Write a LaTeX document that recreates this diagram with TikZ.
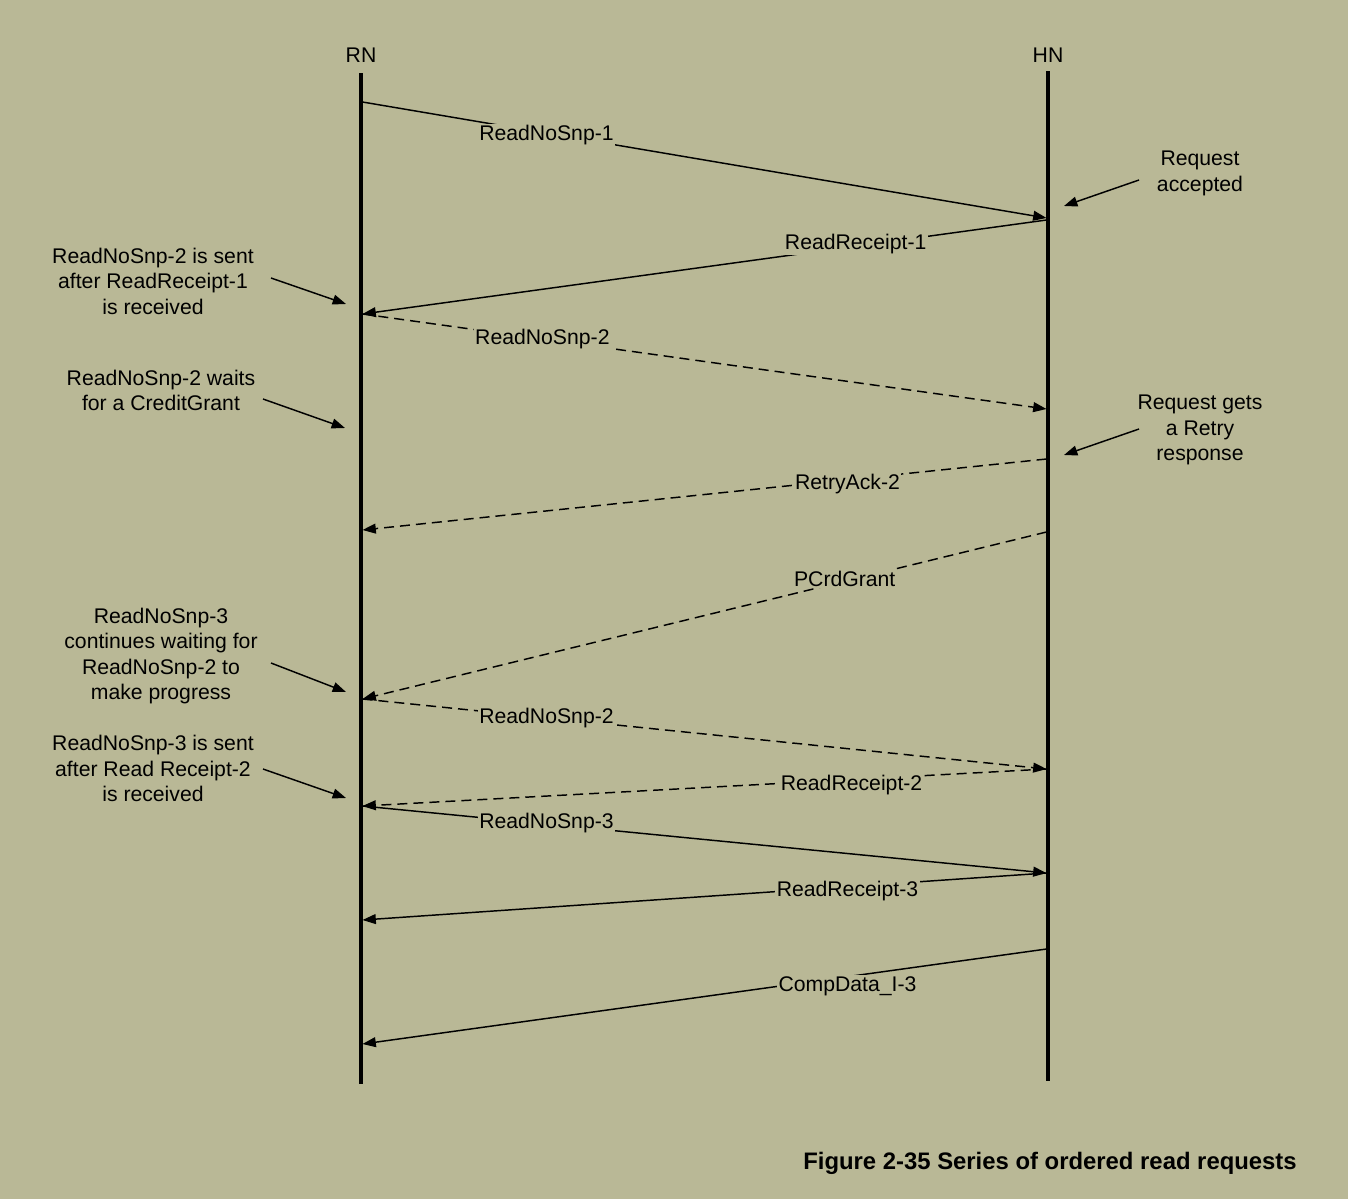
\documentclass[tikz,border=0pt]{standalone}
\usepackage{fontspec}
\setmainfont{Liberation Sans}
\usetikzlibrary{arrows.meta}
\definecolor{bg}{RGB}{185,184,150}
\begin{document}
\begin{tikzpicture}[x=0.75pt,y=-0.75pt,
  lifeline/.style={line width=2.3pt},
  msg/.style={line width=1.1pt,-{Triangle[length=10pt,width=7.4pt]}},
  dmsg/.style={msg,dash pattern=on 7.5pt off 4.5pt},
  lbl/.style={fill=bg,inner sep=1pt,font=\fontsize{15.9}{19}\selectfont},
  head/.style={inner sep=0pt,font=\fontsize{15.9}{19}\selectfont},
  note/.style={align=center,inner sep=0pt,font=\fontsize{15.9}{19.1}\selectfont},
  pointer/.style={line width=1.1pt,-{Triangle[length=10pt,width=7.4pt]}}]
\fill[bg] (0,0) rectangle (1348,1199);
\useasboundingbox (0,0) rectangle (1348,1199);

% lifelines
\node[head] (rn) at (361,55) {RN};
\node[head] (hn) at (1048,55) {HN};
\coordinate (rntop) at (361,73);
\coordinate (rnbot) at (361,1084);
\coordinate (hntop) at (1048,71);
\coordinate (hnbot) at (1048,1081);
\draw[lifeline] (rntop) -- (rnbot);
\draw[lifeline] (hntop) -- (hnbot);

% message end points
\coordinate (r1) at (362.5,102);  \coordinate (h1) at (1046.5,218);
\coordinate (h2) at (1046.5,220); \coordinate (r2) at (362.5,314);
\coordinate (r3) at (362.5,314);  \coordinate (h3) at (1046.5,409);
\coordinate (h4) at (1046.5,459); \coordinate (r4) at (362.5,530);
\coordinate (h5) at (1046.5,532); \coordinate (r5) at (362.5,699);
\coordinate (r6) at (362.5,699);  \coordinate (h6) at (1046.5,769);
\coordinate (h7) at (1046.5,769); \coordinate (r7) at (362.5,806);
\coordinate (r8) at (362.5,806);  \coordinate (h8) at (1046.5,873);
\coordinate (h9) at (1046.5,873); \coordinate (r9) at (362.5,920);
\coordinate (h10) at (1046.5,949); \coordinate (r10) at (362.5,1044);

% messages
\draw[msg] (r1) -- node[lbl,pos=0.269,yshift=-1.5pt] (m1) {ReadNoSnp-1} (h1);
\draw[msg] (h2) -- node[lbl,pos=0.279,yshift=1.7pt] (m2) {ReadReceipt-1} (r2);
\draw[dmsg] (r3) -- node[lbl,pos=0.263] (m3) {ReadNoSnp-2} (h3);
\draw[dmsg] (h4) -- node[lbl,pos=0.291,yshift=-3pt] (m4) {RetryAck-2} (r4);
\draw[dmsg] (h5) -- node[lbl,pos=0.295,yshift=2pt] (m5) {PCrdGrant} (r5);
\draw[dmsg] (r6) -- node[lbl,pos=0.269,yshift=-0.5pt] (m6) {ReadNoSnp-2} (h6);
\draw[dmsg] (h7) -- node[lbl,pos=0.285,yshift=-3.75pt] (m7) {ReadReceipt-2} (r7);
\draw[msg] (r8) -- node[lbl,pos=0.269,yshift=0.5pt] (m8) {ReadNoSnp-3} (h8);
\draw[msg] (h9) -- node[lbl,pos=0.291,yshift=-3.25pt] (m9) {ReadReceipt-3} (r9);
\draw[msg] (h10) -- node[lbl,pos=0.291,yshift=-7pt] (m10) {CompData\_I-3} (r10);

% notes, left
\node[note] (na) at (153,281) {ReadNoSnp-2 is sent\\after ReadReceipt-1\\is received};
\coordinate (pa1) at (271,278); \coordinate (pa2) at (346,304);
\draw[pointer] (pa1) -- (pa2);

\node[note] (nb) at (161,390.5) {ReadNoSnp-2 waits\\for a CreditGrant};
\coordinate (pb1) at (263,399); \coordinate (pb2) at (345,428);
\draw[pointer] (pb1) -- (pb2);

\node[note] (nc) at (161,656) {ReadNoSnp-3\\continues waiting for\\ReadNoSnp-2 to\\make progress};
\coordinate (pc1) at (271,663); \coordinate (pc2) at (346,692);
\draw[pointer] (pc1) -- (pc2);

\node[note] (nd) at (153,768.5) {ReadNoSnp-3 is sent\\after Read Receipt-2\\is received};
\coordinate (pd1) at (263,769); \coordinate (pd2) at (346,798);
\draw[pointer] (pd1) -- (pd2);

% notes, right
\node[note] (ne) at (1200,173.5) {Request\\accepted};
\coordinate (pe1) at (1139,180); \coordinate (pe2) at (1064,206);
\draw[pointer] (pe1) -- (pe2);

\node[note] (nf) at (1200,430) {Request gets\\a Retry\\response};
\coordinate (pf1) at (1139,429); \coordinate (pf2) at (1064,455);
\draw[pointer] (pf1) -- (pf2);

% caption
\node[anchor=base east,inner sep=0pt,font=\fontsize{17.9}{21}\selectfont\bfseries] (cap) at (1297,1169) {Figure 2-35 Series of ordered read requests};
\end{tikzpicture}
\end{document}
